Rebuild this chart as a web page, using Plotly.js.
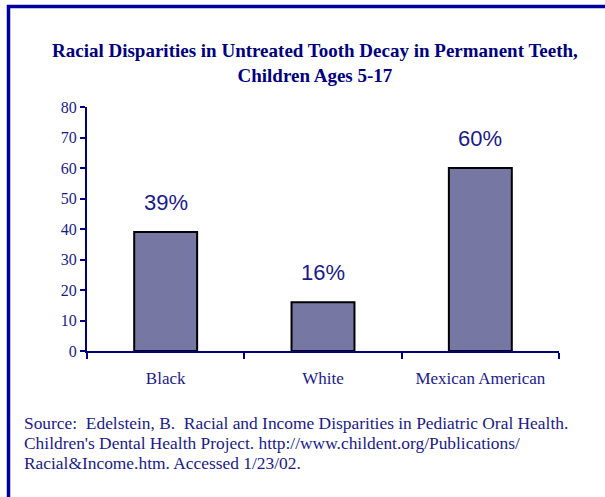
<!DOCTYPE html>
<html>
<head>
<meta charset="utf-8">
<script src="https://cdn.plot.ly/plotly-3.0.1.min.js"></script>
<style>
  html, body { margin: 0; padding: 0; background: #ffffff; }
  #chart { width: 605px; height: 497px; }
</style>
</head>
<body>
<div id="chart"></div>
<script>
// ---- data ----
const categories = ["Black", "White", "Mexican American"];
const decayPercent = [39, 16, 60];
const valueLabels = ["39%", "16%", "60%"];
const yTickValues = [0, 10, 20, 30, 40, 50, 60, 70, 80];

const titleText = "Racial Disparities in Untreated Tooth Decay in Permanent Teeth,<br>Children Ages 5-17";
const sourceLines = [
  "Source:  Edelstein, B.  Racial and Income Disparities in Pediatric Oral Health.",
  "Children's Dental Health Project. http://www.childent.org/Publications/",
  "Racial&amp;Income.htm. Accessed 1/23/02."
];

const navy = "#000080";
const textBlue = "#1a1a8c";
const serif = "Liberation Serif, Times New Roman, serif";
const sans = "Liberation Sans, Arial, sans-serif";

const trace = {
  type: "bar",
  x: categories,
  y: decayPercent,
  width: 0.4,
  marker: { color: "#7777a3", line: { color: "#000000", width: 2 } },
  hoverinfo: "none"
};

const valueAnnotations = categories.map((c, i) => ({
  x: c, y: decayPercent[i], xref: "x", yref: "y",
  text: valueLabels[i], showarrow: false,
  yanchor: "bottom", yshift: 15,
  font: { family: sans, size: 22, color: textBlue }
}));

const sourceAnnotations = sourceLines.map((t, i) => ({
  xref: "paper", yref: "paper", x: (22 - 87) / 472, y: (351 - (423 + 20 * i)) / 244,
  xanchor: "left", yanchor: "middle",
  text: t, showarrow: false, align: "left",
  font: { family: serif, size: 17.4, color: textBlue }
}));

const layout = {
  width: 605, height: 497,
  margin: { l: 87, r: 46, t: 107, b: 146 },
  paper_bgcolor: "#ffffff", plot_bgcolor: "#ffffff",
  showlegend: false,
  xaxis: {
    type: "category",
    showline: true, linecolor: navy, linewidth: 2,
    ticks: "outside", tickson: "boundaries", ticklen: 6, tickwidth: 2, tickcolor: navy,
    ticklabelstandoff: 11,
    tickfont: { family: serif, size: 17, color: textBlue },
    showgrid: false, zeroline: false, fixedrange: true
  },
  yaxis: {
    range: [0, 80],
    tickvals: yTickValues,
    showline: true, linecolor: navy, linewidth: 2,
    ticks: "outside", ticklen: 5, tickwidth: 2, tickcolor: navy,
    tickfont: { family: serif, size: 16, color: textBlue },
    showgrid: false, zeroline: false, fixedrange: true
  },
  annotations: [
    {
      xref: "paper", yref: "paper", x: (315 - 87) / 472, y: (351 - 63) / 244,
      xanchor: "center", yanchor: "middle",
      text: "<b>" + titleText + "</b>", showarrow: false, align: "center",
      font: { family: serif, size: 19, color: navy }
    }
  ].concat(sourceAnnotations, valueAnnotations),
  shapes: [
    { type: "line", xref: "paper", yref: "paper",
      x0: (7 - 87) / 472, x1: (610 - 87) / 472,
      y0: (351 - 6.5) / 244, y1: (351 - 6.5) / 244,
      line: { color: "#0000a0", width: 3.5 } },
    { type: "line", xref: "paper", yref: "paper",
      x0: (8.5 - 87) / 472, x1: (8.5 - 87) / 472,
      y0: (351 - 5) / 244, y1: (351 - 505) / 244,
      line: { color: "#0000a0", width: 3.5 } }
  ]
};

Plotly.newPlot("chart", [trace], layout, { staticPlot: true, displayModeBar: false });
</script>
</body>
</html>
